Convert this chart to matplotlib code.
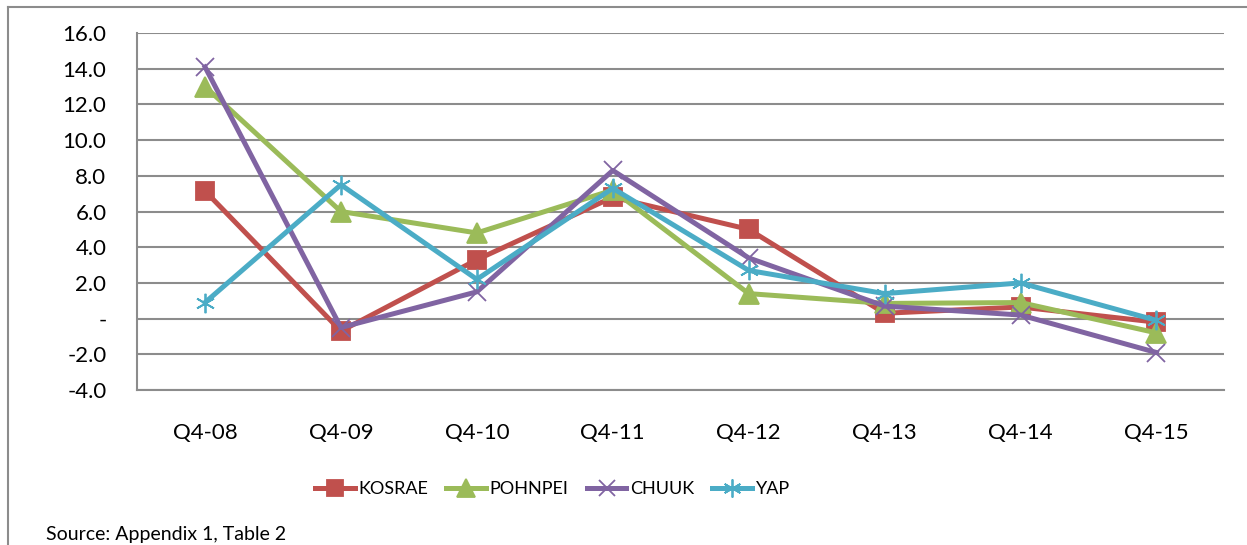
import matplotlib.pyplot as plt
import numpy as np
from matplotlib.lines import Line2D

plt.rcParams['font.family'] = ['Lato', 'DejaVu Sans']

# 数据
quarters = ['Q4-08', 'Q4-09', 'Q4-10', 'Q4-11', 'Q4-12', 'Q4-13', 'Q4-14', 'Q4-15']
kosrae = [7.15, -0.7, 3.3, 6.8, 5.0, 0.3, 0.65, -0.2]
pohnpei = [13.0, 6.0, 4.8, 7.2, 1.4, 0.85, 0.9, -0.8]
chuuk = [14.1, -0.5, 1.5, 8.3, 3.4, 0.7, 0.2, -1.9]
yap = [0.9, 7.5, 2.2, 7.3, 2.7, 1.4, 2.0, -0.1]

series = [
    ('KOSRAE', kosrae, '#C0504D', 's', 13),
    ('POHNPEI', pohnpei, '#9BBB59', '^', 14),
    ('CHUUK', chuuk, '#8064A2', 'x', 13),
    ('YAP', yap, '#4BACC6', (6, 2, 0), 14),
]

fig = plt.figure(figsize=(12.47, 5.45), dpi=100)
ax = fig.add_axes([0.1099, 0.2844, 0.8720, 0.6550])

x = np.arange(len(quarters))
for name, vals, col, mk, ms in series:
    ax.plot(x, vals, color=col, linewidth=3.6, marker=mk, markersize=ms,
            markeredgecolor=col, markerfacecolor=col, markeredgewidth=1.3,
            label=name, zorder=3)

ax.set_xlim(-0.5, len(quarters) - 0.5)
ax.set_ylim(-4, 16)
yt = np.arange(-4, 17, 2)
ax.set_yticks(yt)
ax.set_yticklabels(['-' if v == 0 else f'{v:.1f}' for v in yt], fontsize=16)
ax.set_xticks(x)
ax.set_xticklabels(quarters, fontsize=16)
ax.tick_params(axis='y', length=0, pad=22)
ax.tick_params(axis='x', length=0, pad=24)
ax.grid(axis='y', color='#8C8C8C', linewidth=1.5)
ax.set_axisbelow(True)
for s in ['top', 'right']:
    ax.spines[s].set_visible(False)
for s in ['left', 'bottom']:
    ax.spines[s].set_color('#8C8C8C')
    ax.spines[s].set_linewidth(1.5)

# 图例
handles = [Line2D([0], [0], color=col, linewidth=3.6, marker=mk, markersize=ms - 1,
                  markeredgecolor=col, markerfacecolor=col, markeredgewidth=1.3)
           for _, _, col, mk, ms in series]
fig.legend(handles, [s[0] for s in series], loc='center', ncol=4,
           bbox_to_anchor=(0.443, 0.103), frameon=False, fontsize=13,
           handlelength=2.2, handletextpad=0.2, columnspacing=1.0)

# 外框
fig.add_artist(Line2D([0.0065, 0.0065], [0.0, 0.987], color='#8C8C8C', linewidth=1.5))
fig.add_artist(Line2D([0.0065, 1.0], [0.987, 0.987], color='#8C8C8C', linewidth=1.5))

fig.text(0.037, 0.01, 'Source: Appendix 1, Table 2', fontsize=14)

fig.savefig('out.png', dpi=100)
